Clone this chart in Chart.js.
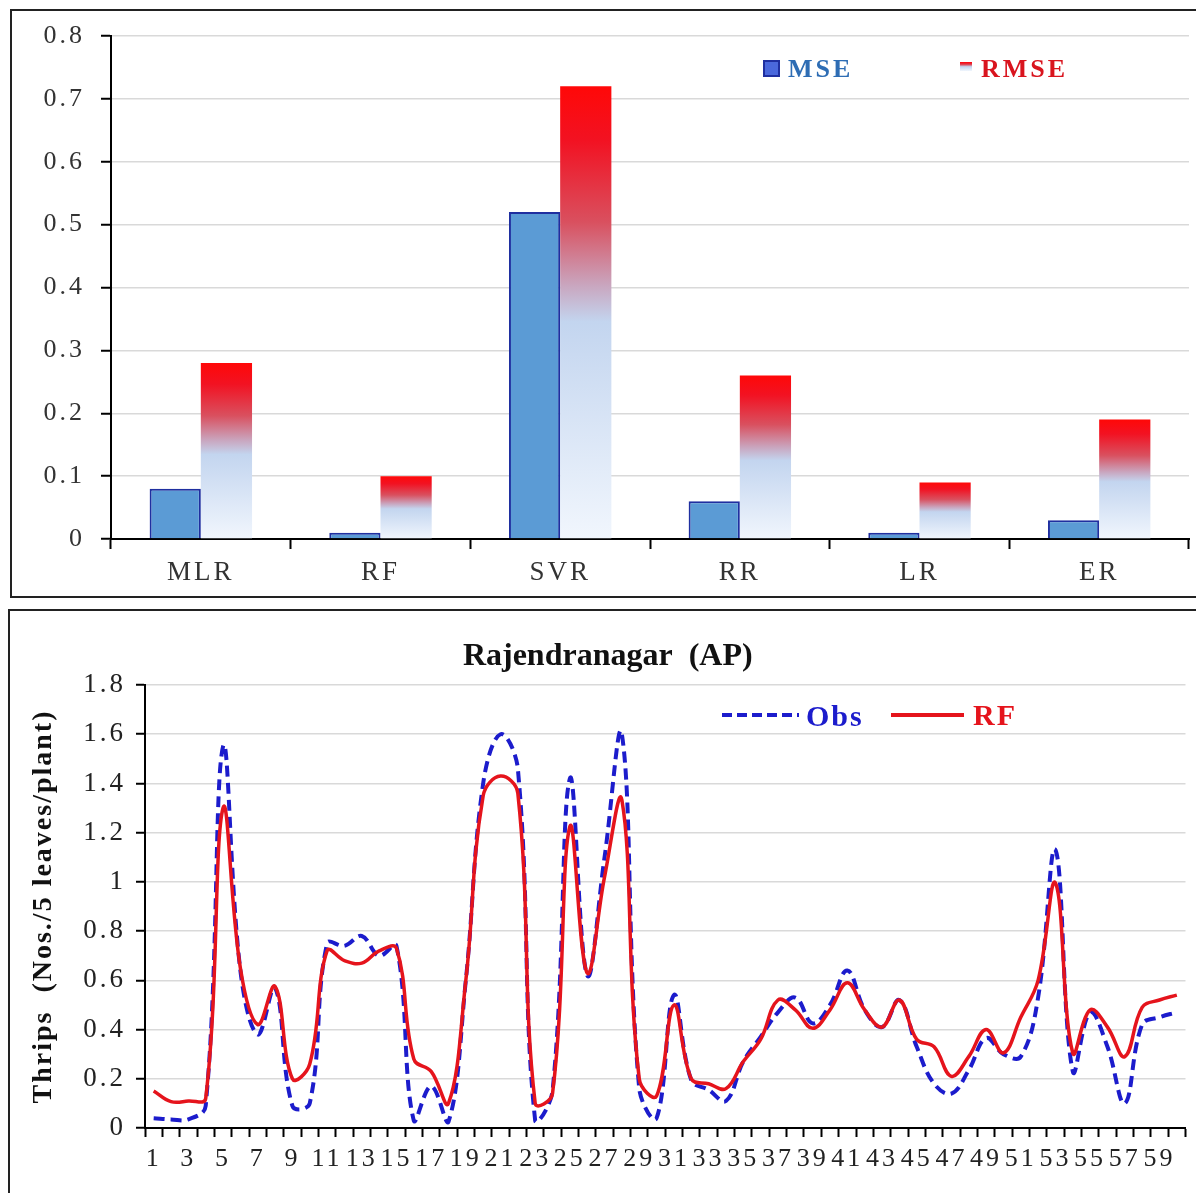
<!DOCTYPE html>
<html><head><meta charset="utf-8">
<script src="https://cdn.jsdelivr.net/npm/chart.js@4.4.1/dist/chart.umd.min.js"></script>
<style>
html,body{margin:0;padding:0;background:#fff;width:1196px;height:1193px;overflow:hidden;}
.box{position:absolute;border:2px solid #222;box-sizing:border-box;}
#box1{left:10px;top:9px;width:1192px;height:589px;}
#box2{left:8px;top:609px;width:1194px;height:600px;}
.cw{position:absolute;left:0;width:1196px;}
#w1{top:0;height:600px;}
#w2{top:600px;height:593px;}
</style></head><body>
<div class="box" id="box1"></div><div class="box" id="box2"></div>
<div class="cw" id="w1"><canvas id="c1" width="1196" height="600"></canvas></div>
<div class="cw" id="w2"><canvas id="c2" width="1196" height="593"></canvas></div>
<script>
// ---------- data ----------
const models = ['MLR','RF','SVR','RR','LR','ER'];
const mseValues  = [0.08,0.01,0.52,0.06,0.01,0.03];
const rmseValues = [0.28,0.10,0.72,0.26,0.09,0.19];

const weeks = ['1','2','3','4','5','6','7','8','9','10','11','12','13','14','15','16','17','18','19','20',
  '21','22','23','24','25','26','27','28','29','30','31','32','33','34','35','36','37','38','39','40',
  '41','42','43','44','45','46','47','48','49','50','51','52','53','54','55','56','57','58','59','60'];
const obsValues = [0.04,0.035,0.035,0.09,1.55,0.64,0.38,0.57,0.09,0.10,
  0.75,0.74,0.78,0.70,0.74,0.03,0.17,0.025,0.60,1.40,
  1.60,1.46,0.03,0.15,1.42,0.62,1.10,1.60,0.16,0.04,
  0.54,0.195,0.155,0.11,0.27,0.37,0.47,0.53,0.425,0.50,
  0.64,0.48,0.41,0.52,0.33,0.18,0.14,0.235,0.365,0.30,
  0.29,0.53,1.13,0.23,0.47,0.33,0.10,0.42,0.45,0.47];
const rfValues = [0.15,0.107,0.11,0.12,1.30,0.65,0.42,0.575,0.20,0.26,
  0.72,0.68,0.67,0.72,0.73,0.28,0.23,0.10,0.60,1.35,
  1.43,1.36,0.10,0.14,1.225,0.63,1.02,1.333,0.20,0.13,
  0.50,0.20,0.18,0.16,0.27,0.36,0.52,0.48,0.405,0.48,
  0.59,0.48,0.41,0.52,0.36,0.33,0.21,0.29,0.40,0.305,
  0.45,0.60,0.995,0.305,0.48,0.41,0.29,0.49,0.52,0.54];

const FONT = "'Liberation Serif', 'Times New Roman', serif";
const fmtTick = v => String(Number(v.toFixed(2)));

// widen scale text a little (reference glyphs are horizontally stretched)
const spacing = {
  id:'spacing',
  beforeDraw(chart, args, opts){
    Object.values(chart.scales).forEach(s => {
      if (s._spPatched) return;
      s._spPatched = true;
      const dl = s.drawLabels, dt = s.drawTitle;
      s.drawLabels = function(a){ const c=this.ctx; const p=c.letterSpacing; c.letterSpacing=opts.labels||'0px'; dl.call(this,a); c.letterSpacing=p; };
      s.drawTitle = function(a){ const c=this.ctx; const p=c.letterSpacing; c.letterSpacing=opts.title||'0px'; dt.call(this,a); c.letterSpacing=p; };
    });
  }
};

// ---------- top chart ----------
function rmseGradient(c2d, top, bot){
  const g = c2d.createLinearGradient(0, top, 0, bot);
  g.addColorStop(0, '#ff0808');
  g.addColorStop(0.12, '#f21222');
  g.addColorStop(0.30, '#d9505f');
  g.addColorStop(0.44, '#c9a6bf');
  g.addColorStop(0.52, '#c3d5ef');
  g.addColorStop(1, '#f1f6fd');
  return g;
}
function rmseFill(ctx){
  const chart = ctx.chart;
  if (ctx.type !== 'data' || !chart.chartArea) return '#e33';
  const ys = chart.scales.y;
  return rmseGradient(chart.ctx, ys.getPixelForValue(ctx.raw), ys.getPixelForValue(0));
}

const legendTop = {
  id:'legendTop',
  afterDraw(chart){
    const c = chart.ctx; const ds = chart.data.datasets;
    c.save();
    c.fillStyle = '#4a68dc'; c.fillRect(763,60,17,17);
    c.strokeStyle = '#1f2fa0'; c.lineWidth = 2; c.strokeRect(764,61,15,15);
    c.fillStyle = rmseGradient(c, 62, 71); c.fillRect(960,62,12,9);
    c.font = 'bold 26px ' + FONT; c.textBaseline = 'alphabetic'; c.textAlign = 'left';
    c.letterSpacing = '3px';
    c.fillStyle = '#2e6db4'; c.fillText(ds[0].label, 788, 77);
    c.fillStyle = '#d9141e'; c.fillText(ds[1].label, 981, 77);
    c.restore();
  }
};

new Chart(document.getElementById('c1'), {
  type:'bar',
  data:{
    labels: models,
    datasets:[
      {label:'MSE', data: mseValues, backgroundColor:'#5b9bd5', borderColor:'#1f2fa0', borderWidth:2,
       categoryPercentage:0.57, barPercentage:1},
      {label:'RMSE', data: rmseValues, backgroundColor: rmseFill, borderWidth:0,
       categoryPercentage:0.57, barPercentage:1}
    ]
  },
  options:{
    responsive:false, animation:false, devicePixelRatio:1,
    layout:{padding:{left:0,right:7,top:36,bottom:0}},
    plugins:{legend:{display:false}, tooltip:{enabled:false}, spacing:{labels:'3px'}},
    scales:{
      x:{
        grid:{display:true, drawOnChartArea:false, drawTicks:true, tickLength:10, tickColor:'#000', tickWidth:2, offset:true},
        border:{color:'#000', width:2},
        ticks:{color:'#333', font:{family:FONT, size:27}, padding:8, maxRotation:0},
        afterFit(s){ s.height = 61; }
      },
      y:{
        min:0, max:0.8,
        ticks:{stepSize:0.1, color:'#333', font:{family:FONT, size:26}, padding:16, callback: fmtTick},
        grid:{color:'#d9d9d9', lineWidth:1.5, tickLength:10, tickColor:'#000', tickWidth:2},
        border:{color:'#000', width:2},
        afterFit(s){ s.width = 111; }
      }
    }
  },
  plugins:[spacing, legendTop]
});

// ---------- bottom chart ----------
const legendBottom = {
  id:'legendBottom',
  afterDraw(chart){
    const c = chart.ctx; const ds = chart.data.datasets;
    c.save();
    c.lineWidth = 4;
    c.strokeStyle = ds[0].borderColor; c.setLineDash([10,5]);
    c.beginPath(); c.moveTo(722,115); c.lineTo(799,115); c.stroke();
    c.setLineDash([]); c.strokeStyle = ds[1].borderColor;
    c.beginPath(); c.moveTo(891,115); c.lineTo(964,115); c.stroke();
    c.font = 'bold 30px ' + FONT; c.textBaseline = 'alphabetic'; c.textAlign = 'left';
    c.letterSpacing = '2px';
    c.fillStyle = ds[0].borderColor; c.fillText(ds[0].label, 806, 126);
    c.fillStyle = ds[1].borderColor; c.fillText(ds[1].label, 973, 125);
    c.restore();
  }
};

new Chart(document.getElementById('c2'), {
  type:'line',
  data:{
    labels: weeks,
    datasets:[
      {label:'Obs', data: obsValues, borderColor:'#1c1ccc', borderWidth:4, borderDash:[11,6],
       pointRadius:0, tension:0.4, fill:false, order:2},
      {label:'RF', data: rfValues, borderColor:'#e5141c', borderWidth:3.5,
       pointRadius:0, tension:0.4, fill:false, order:1}
    ]
  },
  options:{
    responsive:false, animation:false, devicePixelRatio:1,
    layout:{padding:{left:30,right:10.5,top:0,bottom:0}},
    plugins:{
      legend:{display:false}, tooltip:{enabled:false},
      spacing:{labels:'3px', title:'2px'},
      title:{display:true, text:'Rajendranagar  (AP)', color:'#111',
        font:{family:FONT, size:32, weight:'bold'}, padding:{top:38,bottom:8.6}}
    },
    scales:{
      x:{
        offset:true,
        grid:{display:true, offset:true, drawOnChartArea:false, drawTicks:true, tickLength:9, tickColor:'#000', tickWidth:2},
        border:{color:'#000', width:2},
        ticks:{autoSkip:false, maxRotation:0, minRotation:0, color:'#222', font:{family:FONT, size:26}, padding:7,
          callback:(v,i)=> (i % 2 === 0 ? weeks[i] : '')},
        afterFit(s){ s.height = 65; }
      },
      y:{
        min:0, max:1.8,
        ticks:{stepSize:0.2, color:'#222', font:{family:FONT, size:27}, padding:10, callback: fmtTick},
        grid:{color:'#d9d9d9', lineWidth:1.5, tickLength:9, tickColor:'#000', tickWidth:2},
        border:{color:'#000', width:2},
        title:{display:true, text:'Thrips  (Nos./5 leaves/plant)', color:'#111',
          font:{family:FONT, size:28, weight:'bold', lineHeight:1}, padding:0},
        afterFit(s){ s.width = 115; }
      }
    }
  },
  plugins:[spacing, legendBottom]
});
</script>
</body></html>
